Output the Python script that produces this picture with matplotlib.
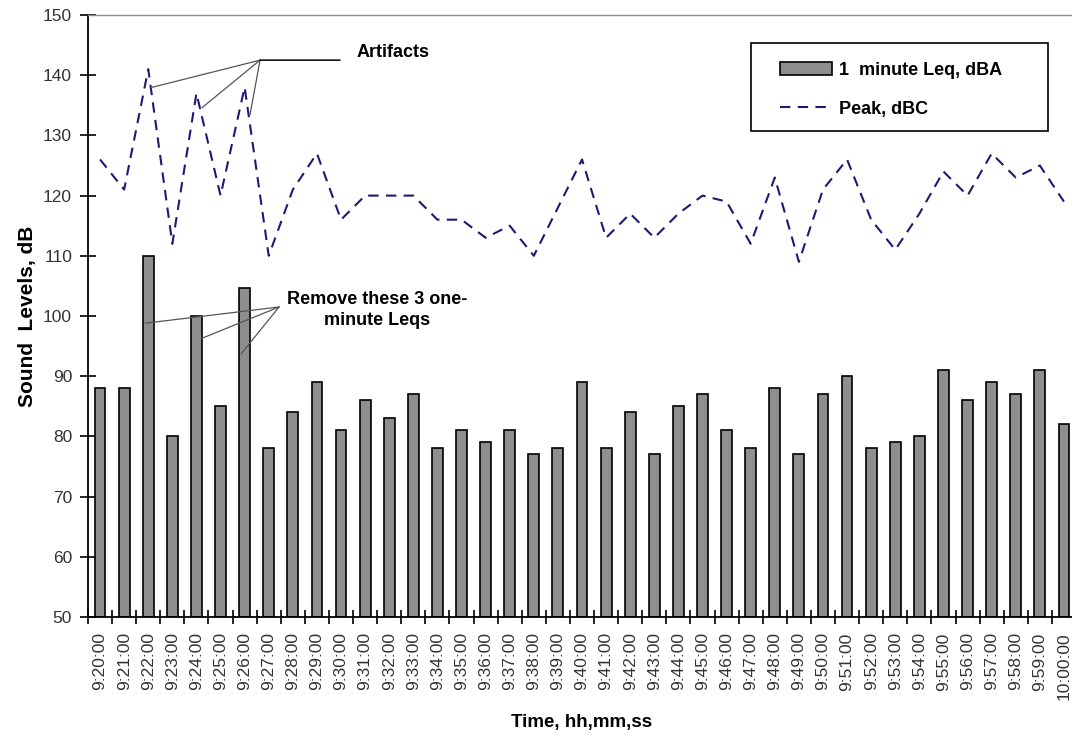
import matplotlib
matplotlib.use("Agg")
import matplotlib.pyplot as plt
from matplotlib.patches import Rectangle
import numpy as np

plt.rcParams['font.family'] = ['Liberation Sans', 'DejaVu Sans']

# minute stamps 9:20:00 .. 10:00:00
times = ["9:%02d:00" % m for m in range(20, 60)] + ["10:00:00"]

leq = [88, 88, 110, 80, 100, 85, 104.7, 78, 84, 89,
       81, 86, 83, 87, 78, 81, 79, 81, 77, 78,
       89, 78, 84, 77, 85, 87, 81, 78, 88, 77,
       87, 90, 78, 79, 80, 91, 86, 89, 87, 91, 82]

peak = [126, 121, 141, 112, 137, 120, 138, 110, 121, 127,
        116, 120, 120, 120, 116, 116, 113, 115, 110, 118,
        126, 113, 117, 113, 117, 120, 119, 112, 123, 109,
        121, 126, 116, 111, 117, 124, 120, 127, 123, 125, 119]

yticks = list(range(50, 151, 10))

fig = plt.figure(figsize=(10.72, 7.36), dpi=100)
ax = fig.add_axes([88/1072, 1-617/736, 988/1072, 602/736])

x = np.arange(len(times))
bars = ax.bar(x, [v - 50 for v in leq], bottom=50, width=0.45, color="#8e8e8e",
              edgecolor="black", linewidth=1.2, label="1  minute Leq, dBA", zorder=2)
line, = ax.plot(x, peak, color="#1b1b72", linestyle=(0, (5, 3.5)), linewidth=1.5,
                label="Peak, dBC", zorder=3)

ax.set_xlim(-0.5, len(times) - 0.5)
ax.set_ylim(50, 150)
ax.set_yticks(yticks)
ax.set_xticks(x)
ax.set_xticklabels(times, rotation=90, fontsize=12.5, color="#333333")
ax.tick_params(axis='x', which='major', length=0, pad=11)
ax.set_xticks(np.arange(-0.5, len(times), 1), minor=True)
ax.tick_params(axis='x', which='minor', direction='inout', length=10, width=1.2)
ax.tick_params(axis='y', direction='inout', length=11, width=1.2, labelsize=12.5,
               labelcolor="#333333", pad=6)

ax.spines['right'].set_visible(False)
ax.spines['top'].set_color("#8a8a8a")
ax.spines['top'].set_linewidth(1.0)
ax.spines['left'].set_linewidth(1.3)
ax.spines['bottom'].set_linewidth(1.3)

ax.set_ylabel("Sound  Levels, dB", fontsize=15, fontweight='bold', labelpad=4)
ax.set_xlabel("Time, hh,mm,ss", fontsize=13.5, fontweight='bold', labelpad=10)

# leader lines for the notes
lc = dict(arrowstyle='-', color="#555555", lw=0.9, shrinkA=0, shrinkB=0)
for tx, ty in [(2.07, 137.9), (4.23, 134.6), (6.22, 133.4)]:
    ax.annotate("", xy=(tx, ty), xytext=(6.64, 142.5), arrowprops=lc)
ax.annotate("", xy=(9.96, 142.5), xytext=(6.64, 142.5),
            arrowprops=dict(arrowstyle='-', color="black", lw=1.1, shrinkA=0, shrinkB=0))
ax.text(10.66, 143.7, "Artifacts", fontsize=13, fontweight='bold', va='center', ha='left')

for tx, ty in [(1.87, 98.8), (4.23, 96.3), (5.85, 93.7)]:
    ax.annotate("", xy=(tx, ty), xytext=(7.43, 101.5), arrowprops=lc)
ax.text(11.5, 101.0, "Remove these 3 one-\nminute Leqs", fontsize=13, fontweight='bold',
        ha='center', va='center', linespacing=1.25)

# legend box drawn separately so it can be wider than its contents
ax.add_patch(Rectangle((0.671, 0.807), 0.301, 0.146, transform=ax.transAxes,
                       facecolor="white", edgecolor="black", linewidth=1.2, zorder=4))
leg = ax.legend(handles=[bars, line], loc='upper left', bbox_to_anchor=(0.700, 0.922),
                frameon=False, prop={'size': 13, 'weight': 'bold'},
                handlelength=2.9, handletextpad=0.4, labelspacing=1.2, borderpad=0,
                borderaxespad=0)
leg.set_zorder(5)

fig.savefig("out.png", dpi=100)
